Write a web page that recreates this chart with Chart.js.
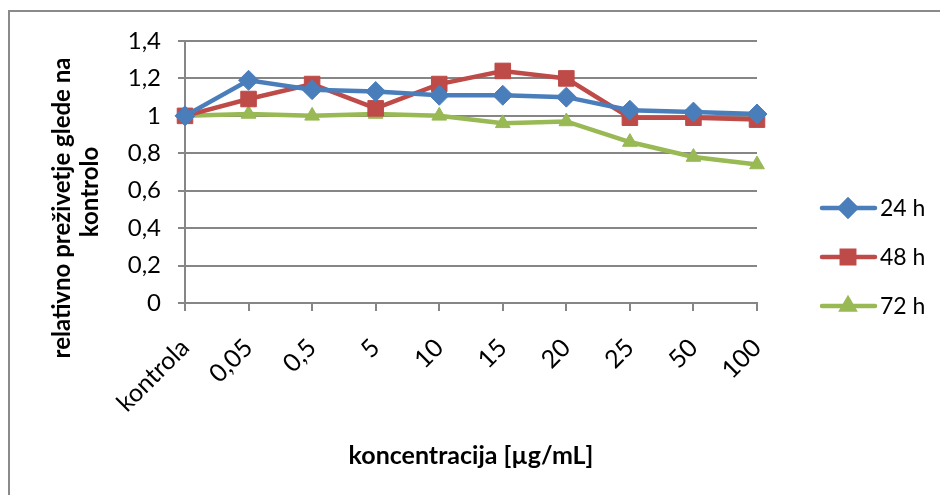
<!DOCTYPE html>
<html>
<head>
<meta charset="utf-8">
<style>
  html, body { margin: 0; padding: 0; background: #fff; overflow: hidden; }
  #wrap { position: relative; width: 940px; height: 495px; }
  #frame { position: absolute; left: 8px; top: 10px; width: 1000px; height: 600px;
           border: 2px solid #8a8a8a; box-sizing: border-box; }
  canvas { position: absolute; left: 0; top: 0; }
</style>
<script src="https://cdn.jsdelivr.net/npm/chart.js@4/dist/chart.umd.min.js"></script>
</head>
<body>
<div id="wrap">
  <div id="frame"></div>
  <canvas id="c" width="940" height="495"></canvas>
</div>
<script>
// Concentrations tested (x categories)
const categories = ['kontrola', '0,05', '0,5', '5', '10', '15', '20', '25', '50', '100'];
// Relative survival vs. control for each incubation time
const survival24h = [1.00, 1.19, 1.14, 1.13, 1.11, 1.11, 1.10, 1.03, 1.02, 1.01];
const survival48h = [1.00, 1.09, 1.17, 1.04, 1.17, 1.24, 1.20, 0.99, 0.99, 0.98];
const survival72h = [1.00, 1.01, 1.00, 1.01, 1.00, 0.96, 0.97, 0.86, 0.78, 0.74];
const seriesLabels = ['24 h', '48 h', '72 h'];
const yTicks = [0, 0.2, 0.4, 0.6, 0.8, 1, 1.2, 1.4];

const FONT = 'Lato, "Open Sans", sans-serif';
const GRID = '#868686';

// Legend: line segment with marker, then label
const lineLegend = {
  id: 'lineLegend',
  afterDraw(chart) {
    const ctx = chart.ctx;
    const rows = [208, 257, 306];
    chart.data.datasets.forEach((ds, i) => {
      const y = rows[i];
      ctx.save();
      ctx.strokeStyle = ds.borderColor;
      ctx.lineWidth = 4.5;
      ctx.lineCap = 'round';
      ctx.beginPath();
      ctx.moveTo(822, y);
      ctx.lineTo(875, y);
      ctx.stroke();
      ctx.fillStyle = ds.pointBackgroundColor;
      ctx.strokeStyle = ds.pointBorderColor;
      Chart.helpers.drawPoint(ctx, {
        pointStyle: ds.pointStyle, radius: ds.pointRadius * 0.8,
        rotation: 0, borderWidth: 1
      }, 848, y);
      ctx.fillStyle = '#000';
      ctx.font = '23px ' + FONT;
      ctx.textAlign = 'left';
      ctx.textBaseline = 'middle';
      ctx.fillText(ds.label, 880, y + 1);
      ctx.restore();
    });
  }
};

// Two-line rotated title for the value axis
const yTitle = {
  id: 'yTitle',
  afterDraw(chart) {
    const ctx = chart.ctx;
    ctx.save();
    ctx.fillStyle = '#000';
    ctx.font = 'bold 24px ' + FONT;
    ctx.textAlign = 'center';
    ctx.textBaseline = 'middle';
    ctx.translate(62, 208);
    ctx.rotate(-Math.PI / 2);
    ctx.fillText('relativno preživetje glede na', 0, 0);
    ctx.fillText('kontrolo', 16, 28);
    ctx.restore();
  }
};

const mk = (label, data, color, style, radius) => ({
  label, data,
  borderColor: color,
  backgroundColor: color,
  pointBackgroundColor: color,
  pointBorderColor: color,
  pointStyle: style,
  pointRadius: radius,
  pointBorderWidth: 1,
  borderWidth: 4.5,
  tension: 0
});

new Chart(document.getElementById('c'), {
  type: 'line',
  data: {
    labels: categories,
    datasets: [
      mk(seriesLabels[0], survival24h, '#4A7EBB', 'rectRot', 10),
      mk(seriesLabels[1], survival48h, '#BE4B48', 'rect', 11),
      mk(seriesLabels[2], survival72h, '#98B954', 'triangle', 8.5)
    ]
  },
  options: {
    responsive: false,
    animation: false,
    layout: { padding: { left: 0, right: 183, top: 41, bottom: 0 } },
    plugins: { legend: { display: false }, tooltip: { enabled: false } },
    scales: {
      x: {
        offset: false,
        grid: { display: true, drawOnChartArea: false, drawTicks: true, tickLength: 8, color: GRID, lineWidth: 2 },
        border: { display: true, color: GRID, width: 2 },
        ticks: { color: '#000', font: { family: FONT, size: 25 }, minRotation: 45, maxRotation: 45, padding: 22, autoSkip: false },
        title: { display: true, text: 'koncentracija [µg/mL]', color: '#000', font: { family: FONT, size: 25, weight: 'bold' }, padding: { top: 0, bottom: 24 } },
        afterFit(s) { s.height = 192; }
      },
      y: {
        min: 0, max: 1.4,
        afterBuildTicks(s) { s.ticks = yTicks.map(v => ({ value: v })); },
        grid: { color: GRID, lineWidth: 2, drawTicks: true, tickLength: 7 },
        border: { display: true, color: GRID, width: 2 },
        ticks: {
          color: '#000', font: { family: FONT, size: 24 }, padding: 17,
          callback: v => String(Math.round(v * 10) / 10).replace('.', ',')
        },
        afterFit(s) { s.width = 185; }
      }
    }
  },
  plugins: [lineLegend, yTitle]
});
</script>
</body>
</html>
